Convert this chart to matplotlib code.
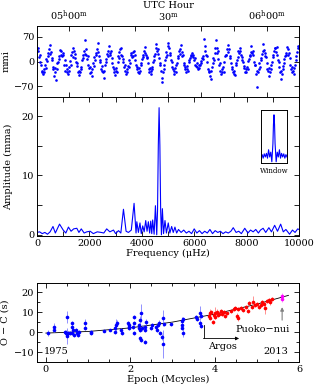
import numpy as np
import matplotlib
matplotlib.use('Agg')
from matplotlib import pyplot as plt
from matplotlib.ticker import MultipleLocator, FixedLocator

plt.rcParams['font.family'] = ['DejaVu Serif']
plt.rcParams['mathtext.fontset'] = 'dejavuserif'
plt.rcParams['font.size'] = 7
plt.rcParams['axes.linewidth'] = 0.7

# light curve, one row per pulsation cycle (mmi), 12 s cadence
flux_rows = [
    [30, 40, 12, 20, -2, -8, -25, -28, -35, -22, -30, -10, -18, 8, 2, 25, 15, 35],
    [22, 48, 28, 5, 10, -15, -20, -40, -18, -30, -52, -22, -5, 0, 15, 8, 32, 20],
    [30, 15, 25, 18, -10, 5, -25, -10, -30, -20, -35, -25, -15, 2, -8, 20, 28, 40],
    [12, 30, 10, 22, 0, -12, -5, -30, -25, -38, -28, -15, -22, 5, 10, 18, 30, 22],
    [60, 20, 35, 8, 15, -10, -18, -15, -32, -28, -20, -40, -5, -12, 12, 5, 25, 18],
    [35, 28, 52, 15, 5, 0, -20, -25, -12, -30, -45, -25, -10, 0, 8, 22, 15, 30],
    [45, 25, 18, 30, -5, 10, -15, -30, -20, -38, -25, -18, -28, -2, 15, 10, 28, 35],
    [20, 38, 15, 8, 0, -15, -8, -25, -35, -20, -30, -12, -15, 5, -5, 18, 25, 12],
    [28, 15, 30, 20, 5, -8, -20, -15, -28, -32, -18, -25, -5, -10, 8, 20, 12, 30],
    [42, 25, 18, 10, 12, -5, -22, -28, -18, -35, -25, -15, -20, 0, 15, 5, 22, 38],
    [50, 30, 22, 35, 10, -10, -5, -25, -45, -58, -30, -20, -8, 5, 12, 28, 20, 45],
    [52, 40, 20, 25, 5, 0, -15, -20, -35, -25, -18, -30, -10, -5, 10, 15, 30, 22],
    [35, 48, 28, 15, 18, -5, -10, -22, -15, -30, -20, -12, -25, 0, 5, 10, 20, 15],
    [25, 12, 18, 5, 10, -8, -12, -5, -15, -20, -10, -18, -8, 2, -5, 10, 15, 8],
    [65, 30, 45, 20, 15, 0, -20, -30, -25, -40, -50, -25, -15, -5, 10, 5, 25, 40],
    [60, 38, 25, 30, 8, -10, -5, -25, -35, -28, -22, -15, -30, 0, 15, 20, 18, 35],
    [48, 28, 35, 15, 10, -5, -15, -20, -30, -35, -25, -38, -10, -5, 5, 12, 30, 25],
    [30, 38, 20, 12, 5, 0, -18, -12, -28, -22, -30, -15, -20, 2, 8, 20, 15, 28],
    [45, 25, 30, 18, 0, -10, -8, -35, -72, -25, -30, -20, -5, -15, 10, 5, 22, 30],
    [50, 32, 25, 15, 12, -5, -20, -25, -18, -40, -28, -22, -10, 0, 12, 18, 30, 40],
    [38, 28, 42, 20, 5, 0, -15, -30, -25, -48, -35, -20, -12, -5, 8, 15, 25, 20],
    [42, 35, 18, 25, 10, -8, -22, -15, -30, -25, -35, -18, -8, 5, 15, 28, 40, 45],
]
t_start, t_end = -9.5, 69.5   # minutes after 05:00 UTC

# amplitude spectrum
freq = [0, 100, 200, 300, 400, 500, 610, 700, 860, 1000, 1100, 1200, 1300, 1400,
        1520, 1600, 1690, 1800, 1900, 2030, 2150, 2300, 2450, 2550, 2660, 2780,
        2920, 3000, 3110, 3200, 3300, 3400, 3490, 3600, 3705, 3780, 3810, 3870,
        3930, 3980, 4035, 4090, 4150, 4200, 4250, 4300, 4340, 4380, 4415, 4470,
        4520, 4570, 4600, 4630, 4660, 4690, 4720, 4750, 4785, 4830, 4885, 4940,
        5010, 5070, 5140, 5200, 5265, 5330, 5400, 5500, 5600, 5700, 5800, 5900,
        6000, 6100, 6200, 6300, 6400, 6500, 6600, 6700, 6800, 6900, 7000, 7100,
        7200, 7300, 7400, 7490, 7600, 7700, 7800, 7930, 8050, 8150, 8250, 8350,
        8450, 8530, 8630, 8730, 8850, 8950, 9070, 9180, 9300, 9400, 9500, 9640,
        9750, 9850, 9950, 10000]
amp = [0.4, 0.5, 0.2, 0.4, 0.1, 0.5, 1.4, 0.3, 1.8, 0.8, 0.3, 1.3, 0.6, 1.0,
       1.1, 0.4, 1.0, 0.3, 0.5, 0.6, 0.2, 0.5, 0.4, 0.3, 1.0, 0.5,
       0.8, 0.2, 0.7, 0.3, 4.3, 0.6, 0.4, 0.8, 5.3, 0.3, 2.2, 0.4,
       2.0, 0.2, 1.5, 0.5, 2.4, 0.6, 2.2, 0.3, 2.3, 0.2, 2.5, 0.1,
       4.9, 0.0, 4.0, 15.0, 21.4, 15.0, 4.0, 0.0, 4.4, 0.2, 2.4, 0.3,
       2.0, 0.3, 1.4, 0.4, 1.3, 0.3, 0.9, 0.4, 0.8, 0.3, 0.6, 0.2,
       1.0, 0.3, 0.7, 0.2, 0.6, 0.3, 0.9, 0.2, 0.7, 0.4, 0.6, 0.2,
       0.5, 0.3, 0.6, 1.2, 0.4, 0.6, 0.2, 1.1, 0.3, 0.8, 0.5, 0.9,
       0.3, 0.8, 1.1, 0.4, 1.2, 0.5, 1.6, 0.6, 1.8, 0.5, 0.9, 0.1,
       0.8, 0.4, 1.0, 0.9]

# spectral window
win_freq = [-1200, -1100, -1000, -900, -800, -700, -600, -500, -400, -300, -200,
            -100, -50, 0, 50, 100, 200, 300, 400, 500, 600, 700, 800, 900, 1000,
            1100, 1200]
win_amp = [2.5, 3.5, 2.0, 3.8, 2.5, 4.0, 2.0, 5.5, 2.5, 4.5, 0.5, 8, 16, 20, 16,
           8, 0.5, 4.5, 2.5, 5.5, 2.0, 4.0, 2.5, 3.8, 2.0, 3.5, 2.5]

# O-C diagram: archival (blue), Argos (red), Puoko-nui (magenta)
blue_epoch = [0.06, 0.20, 0.20, 0.46, 0.48, 0.50, 0.50, 0.52, 0.50, 0.58, 0.62,
              0.63, 0.64, 0.63, 0.66, 0.72, 0.74, 0.76, 0.78, 0.93, 0.93, 1.06,
              1.08, 1.37, 1.53, 1.64, 1.65, 1.66, 1.68, 1.78, 1.80, 1.95, 1.96,
              1.98, 1.98, 2.06, 2.08, 2.10, 2.08, 2.20, 2.21, 2.23, 2.25, 2.22,
              2.23, 2.25, 2.28, 2.35, 2.34, 2.36, 2.37, 2.49, 2.52, 2.62, 2.64,
              2.66, 2.68, 2.70, 2.76, 2.78, 2.78, 2.80, 2.97, 3.22, 3.23, 3.22,
              3.24, 3.25, 3.55, 3.58, 3.66, 3.67, 3.66, 3.68]
blue_oc = [-0.3, 2.7, 1.0, 0.2, -0.3, -1.0, -2.2, -0.6, 7.8, -0.5, 4.4,
           2.7, 1.0, -0.7, -1.5, 1.0, -0.7, -1.5, 0.2, 4.4, 1.9, 0.2,
           -0.7, 0.7, 1.0, 1.9, 0.2, 3.6, 4.4, 1.0, -0.7, 4.4, 3.6,
           2.7, 1.9, 2.7, 7.8, 4.4, -0.7, 3.6, 1.9, 6.1, 9.5, 1.0,
           -3.2, -4.1, 2.2, -5.0, 1.0, 2.7, 5.0, 1.9, 3.6, 2.5, 1.0,
           3.5, 4.5, -0.7, -2.4, -5.8, 6.9, 3.8, 4.1, 5.4, 3.7, 2.0,
           -0.5, 6.5, 7.8, 6.4, 9.8, 8.1, 4.7, 3.1]
blue_err = [1.5, 2.0, 1.0, 1.0, 1.2, 2.0, 4.0, 1.0, 3.0, 1.0, 1.0,
            1.5, 1.0, 1.0, 1.0, 1.0, 1.0, 0.8, 1.0, 2.0, 1.0, 1.0,
            1.0, 0.8, 0.5, 1.0, 1.0, 3.0, 1.5, 1.0, 0.8, 1.0, 1.0,
            1.0, 0.8, 1.0, 1.0, 1.0, 1.0, 1.0, 1.5, 2.0, 4.5, 1.0,
            1.0, 1.0, 1.5, 1.0, 1.0, 1.0, 1.5, 1.0, 1.0, 1.0, 1.0,
            1.0, 1.5, 1.0, 1.5, 7.0, 4.0, 1.0, 1.0, 2.0, 1.0, 1.0,
            2.0, 1.0, 1.0, 1.0, 3.5, 1.0, 1.5, 1.0]
red_epoch = [3.86, 3.88, 3.90, 3.92, 3.95, 3.98, 4.00, 4.02, 4.05, 4.08, 4.10,
             4.15, 4.18, 4.22, 4.25, 4.30, 4.40, 4.45, 4.48, 4.52, 4.55, 4.55,
             4.62, 4.68, 4.75, 4.78, 4.82, 4.88, 4.90, 4.95, 5.00, 5.05, 5.10,
             5.12, 5.18, 5.20, 5.25, 5.28, 5.32, 5.35]
red_oc = [8.0, 9.5, 7.0, 10.0, 5.0, 8.5, 9.5, 7.5, 10.0, 8.5, 9.0,
          10.5, 9.0, 10.0, 8.0, 9.5, 10.5, 11.5, 12.0, 8.0, 7.0, 11.5,
          12.0, 11.0, 12.5, 10.5, 14.5, 12.5, 15.0, 13.5, 14.0, 12.5, 13.5,
          15.0, 14.0, 12.0, 15.5, 16.0, 15.0, 16.5]
red_err = [1.5, 2.0, 1.0, 1.0, 1.0, 1.0, 3.0, 1.0, 1.5, 1.0, 1.0,
           1.0, 1.0, 1.0, 1.0, 1.0, 1.0, 1.0, 1.0, 1.5, 1.5, 1.0,
           1.0, 1.0, 1.0, 1.0, 1.0, 1.0, 3.0, 1.0, 1.0, 1.0, 1.0,
           1.0, 1.0, 3.0, 1.0, 1.0, 1.5, 1.0]
pn_epoch = [5.60, 5.60]
pn_oc = [18.3, 16.8]
pn_err = [1.5, 1.5]

# best-fit parabola
fit_epoch = [0, 1, 2, 3, 4, 5, 5.75]
fit_oc = [-0.5, 0.3, 2.1, 5.0, 9.0, 14.0, 18.4]

W, H = 314, 389
fig = plt.figure(figsize=(W / 100, H / 100), dpi=100)


def box(l, t, r, b):
    return [l / W, 1 - b / H, (r - l) / W, (b - t) / H]


def inward(ax):
    ax.tick_params(which='both', direction='in', top=True, right=True, width=0.6)
    ax.tick_params(which='major', length=3.5)
    ax.tick_params(which='minor', length=2)


# --- light curve ---
ax1 = fig.add_axes(box(37, 26, 299, 97))
flux = np.concatenate(flux_rows)
t = np.linspace(t_start, t_end, len(flux))
ax1.plot(t, flux, 'o', color='#0000ff', markersize=1.9, markeredgewidth=0)
ax1.set_xlim(-9.7, 69.7)
ax1.set_ylim(-100, 101)
ax1.xaxis.set_major_locator(FixedLocator([0, 30, 60]))
ax1.xaxis.set_minor_locator(MultipleLocator(10))
ax1.set_xticklabels([r'05$^{\rm h}$00$^{\rm m}$', r'30$^{\rm m}$',
                     r'06$^{\rm h}$00$^{\rm m}$'])
ax1.set_yticks([-70, 0, 70])
ax1.set_yticklabels(['\u221270', '0', '70'])
inward(ax1)
ax1.tick_params(which='minor', length=3.5)
ax1.tick_params(labelbottom=False, labeltop=True, pad=2)
ax1.set_ylabel('mmi', labelpad=2)
fig.text(168 / W, 1 - 5.5 / H, 'UTC Hour', ha='center', va='center')

# --- amplitude spectrum ---
ax2 = fig.add_axes(box(37, 97, 299, 236))
ax2.plot(freq, amp, color='#0000ff', lw=0.8)
ax2.set_xlim(0, 10000)
ax2.set_ylim(-0.2, 23.2)
ax2.xaxis.set_major_locator(MultipleLocator(2000))
ax2.xaxis.set_minor_locator(MultipleLocator(1000))
ax2.yaxis.set_major_locator(MultipleLocator(10))
ax2.yaxis.set_minor_locator(MultipleLocator(5))
inward(ax2)
ax2.tick_params(which='minor', length=3.5)
ax2.tick_params(pad=2)
ax2.set_xlabel('Frequency (\u03bcHz)', labelpad=1)
ax2.set_ylabel('Amplitude (mma)', labelpad=6)

axw = fig.add_axes(box(261, 110, 287, 163))
axw.plot(win_freq, win_amp, color='#0000ff', lw=0.8)
axw.set_xlim(-1200, 1200)
axw.set_ylim(0, 22)
axw.set_xticks([])
axw.set_yticks([])
fig.text(274 / W, 1 - 171 / H, 'Window', fontsize=5, ha='center', va='center')

# --- O-C ---
ax3 = fig.add_axes(box(37, 283, 299, 362))
ax3.plot(fit_epoch, fit_oc, color='k', lw=0.6)
ax3.errorbar(blue_epoch, blue_oc, yerr=blue_err, fmt='o', color='#0000ff',
             ecolor='#8080ff', elinewidth=0.6, capsize=1.5, markersize=2.6,
             markeredgewidth=0)
ax3.errorbar(red_epoch, red_oc, yerr=red_err, fmt='o', color='#ff0000',
             ecolor='#ff8080', elinewidth=0.6, capsize=1.5, markersize=2.6,
             markeredgewidth=0)
ax3.errorbar(pn_epoch, pn_oc, yerr=pn_err, fmt='o', color='#ff00ff',
             ecolor='#ff80ff', elinewidth=0.6, capsize=1.5, markersize=2.6,
             markeredgewidth=0)
ax3.set_xlim(-0.21, 6.0)
ax3.set_ylim(-15, 24.6)
ax3.xaxis.set_major_locator(MultipleLocator(2))
ax3.xaxis.set_minor_locator(MultipleLocator(0.5))
ax3.yaxis.set_major_locator(MultipleLocator(10))
ax3.yaxis.set_minor_locator(MultipleLocator(5))
ax3.set_yticks([-10, 0, 10, 20])
ax3.set_yticklabels(['\u221210', '0', '10', '20'])
inward(ax3)
ax3.tick_params(pad=2)
ax3.set_xlabel('Epoch (Mcycles)', labelpad=1)
ax3.set_ylabel('O \u2212 C (s)', labelpad=3)

ax3.text(0.25, -9.5, '1975', ha='center', va='center')
ax3.text(5.45, -9.5, '2013', ha='center', va='center')
ax3.plot([3.74, 3.74], [3.5, -3.2], color='k', lw=0.6)
ax3.annotate('', xy=(4.58, -3.2), xytext=(3.735, -3.2),
             arrowprops=dict(arrowstyle='-|>', color='k', lw=0.6,
                             mutation_scale=5, shrinkA=0, shrinkB=0))
ax3.text(4.18, -7.0, 'Argos', ha='center', va='center')
ax3.annotate('', xy=(5.6, 12.5), xytext=(5.6, 6.0),
             arrowprops=dict(arrowstyle='-|>', color='#808080', lw=0.8,
                             mutation_scale=5, shrinkA=0, shrinkB=0))
ax3.text(5.14, 1.4, 'Puoko\u2212nui', ha='center', va='center')

fig.savefig('out.png', dpi=100)
